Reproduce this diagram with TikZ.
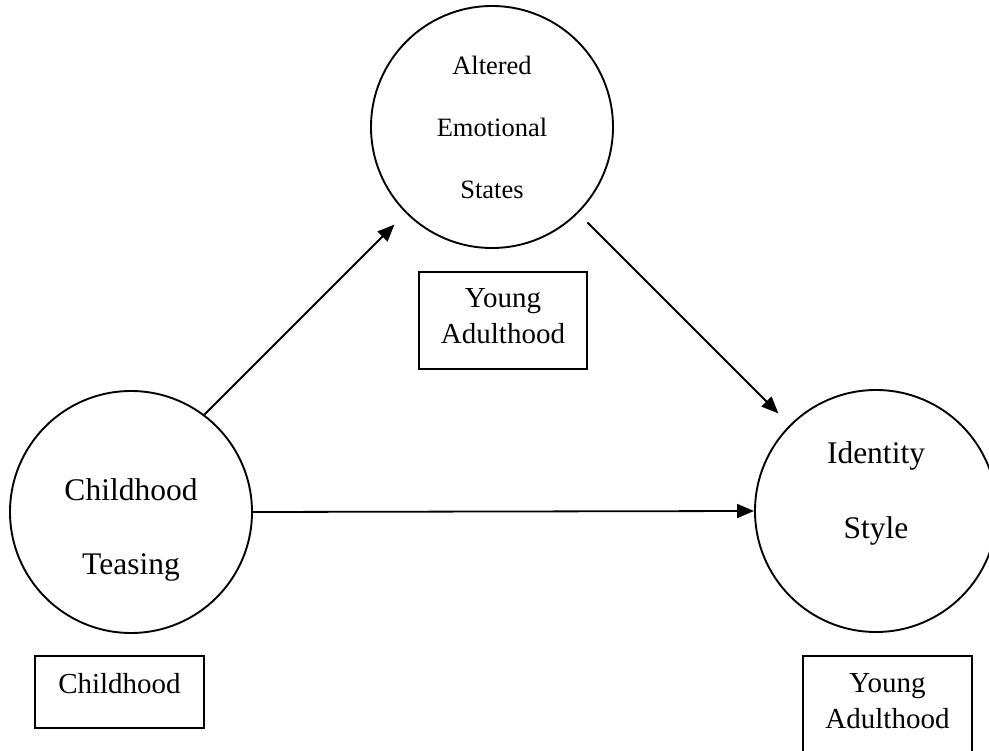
\documentclass[tikz,border=0pt]{standalone}
\usepackage{fontspec}
\setmainfont{Liberation Serif}
\usetikzlibrary{arrows.meta}
\begin{document}
\begin{tikzpicture}[x=1pt,y=-1pt,
  bubble/.style={circle,draw,line width=1.9pt,minimum size=242pt,inner sep=0pt},
  periodbox/.style={rectangle,draw,line width=1.9pt,inner sep=0pt},
  bigtext/.style={align=center,font=\fontsize{31.5}{74}\selectfont},
  smalltext/.style={align=center,font=\fontsize{26.5}{62}\selectfont},
  boxtext/.style={align=center,font=\fontsize{29}{36}\selectfont},
  arr/.style={line width=1.8pt,-{Triangle[length=17pt,width=14pt]}}]
\useasboundingbox (0,0) rectangle (989,751);
% circles
\node[bubble] (aes) at (492,127) {};
\node[bubble] (ct) at (131,512) {};
\node[bubble] (is) at (876,511) {};
% circle texts
\node[smalltext] (aestext) at (492,127) {Altered\\Emotional\\States};
\node[bigtext] (cttext) at (131,529.5) {Childhood\\Teasing};
\node[bigtext,font=\fontsize{31.5}{75}\selectfont] (istext) at (876,493) {Identity\\Style};
% period boxes
\node[periodbox,minimum width=168pt,minimum height=97pt] (yab1) at (503,320.5) {};
\node[boxtext] (yab1text) at (503,316.4) {Young\\Adulthood};
\node[periodbox,minimum width=169pt,minimum height=72pt] (chb) at (119.5,692) {};
\node[boxtext] (chbtext) at (119.5,684) {Childhood};
\node[periodbox,minimum width=169pt,minimum height=97pt] (yab2) at (887.5,704.5) {};
\node[boxtext,font=\fontsize{29}{35.5}\selectfont] (yab2text) at (887.5,700.9) {Young\\Adulthood};
% connectors
\draw[arr,shorten >=16pt] (ct.53) -- (aes.225);
\draw[arr,shorten <=13pt,shorten >=16pt] (aes.315) -- (is.135);
\draw[arr] (ct.east) -- (is.west);
\end{tikzpicture}
\end{document}
